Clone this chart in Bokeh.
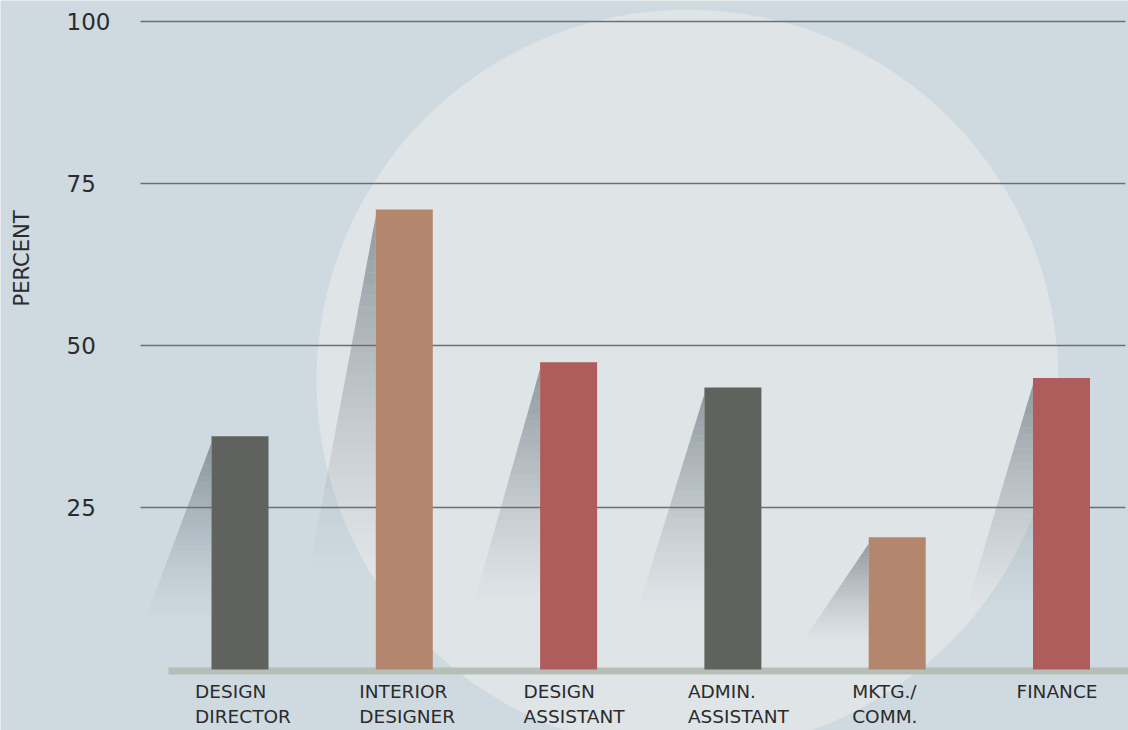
import numpy as np
from bokeh.plotting import figure
from bokeh.models import Range1d, ColumnDataSource
from bokeh.core.properties import value
from bokeh.embed import file_html
from bokeh.resources import INLINE

# ---------------- data ----------------
categories = ["DESIGN\nDIRECTOR", "INTERIOR\nDESIGNER", "DESIGN\nASSISTANT",
              "ADMIN.\nASSISTANT", "MKTG./\nCOMM.", "FINANCE"]
percent = [36, 71, 47.4, 43.5, 20.4, 45]
bar_colors = ["#60625e", "#b4866e", "#ae5c5c", "#60625e", "#b4866e", "#ae5c5c"]
y_ticks = [25, 50, 75, 100]
y_tick_labels = ["25", "50", "75", "100"]
axis_title = "PERCENT"

# ---------------- layout / style ----------------
W, H = 1128, 730
PX_PER_CAT = 164.3
FIRST_CENTER_PX = 239.5
ZERO_PX = 669.0
PX_PER_PCT = 6.48
BG = "#cfdae0"
FONT = "DejaVu Sans"
TEXT_COLOR = "#2b2b2d"


def px_to_x(px):
    return (px - FIRST_CENTER_PX) / PX_PER_CAT


def px_to_y(py):
    return (ZERO_PX - py) / PX_PER_PCT


p = figure(width=W, height=H, output_backend="svg", toolbar_location=None,
           x_range=Range1d(px_to_x(0), px_to_x(W)),
           y_range=Range1d(px_to_y(H), px_to_y(0)),
           min_border=0, outline_line_color=None,
           background_fill_color=BG, border_fill_color=BG)
p.axis.visible = False
p.grid.visible = False

# big decorative circle
p.scatter(x=[px_to_x(687)], y=[px_to_y(380)], size=742, marker="circle",
          fill_color="#dfe4e7", line_color=None)

# bar shadows (gradient approximated by strips)
xs_idx = np.arange(len(percent))
bar_w = 57 / PX_PER_CAT
spread = 85 / PX_PER_CAT
N = 40
sx, sy, sa = [], [], []
for i, v in enumerate(percent):
    xl = xs_idx[i] - bar_w / 2
    apex = v - 1.0
    for k in range(N):
        t0, t1 = k / N, (k + 1) / N
        y0 = apex * (1 - t0)
        y1 = apex * (1 - t1)
        x0 = xl - spread * t0
        x1 = xl - spread * t1
        sx.append([x0, xl, xl, x1])
        sy.append([y0, y0, y1, y1])
        a = 0.48 * max(0.0, 1 - t0 / 0.78) ** 1.3
        sa.append(a)
p.patches(xs=sx, ys=sy, fill_color="#3d4a54", fill_alpha=sa, line_color=None)

# gridlines
gx0, gx1 = px_to_x(140), px_to_x(1125)
p.segment(x0=[gx0] * len(y_ticks), x1=[gx1] * len(y_ticks), y0=y_ticks, y1=y_ticks,
          line_color="#6b7073", line_width=1.4)

# baseline
p.quad(left=[px_to_x(168)], right=[px_to_x(W)], top=[px_to_y(667)], bottom=[px_to_y(674)],
       fill_color="#b6beb8", line_color=None)

# bars
src = ColumnDataSource(dict(x=xs_idx, top=percent, color=bar_colors, label=categories))
p.vbar(x="x", top="top", bottom=0, width=bar_w, fill_color="color", line_color=None, source=src)

# category labels
p.text(x="x", y=px_to_y(680), text="label", source=src, x_offset=-45,
       text_align="left", text_baseline="top", text_font=value(FONT),
       text_font_size="18.5px", text_color=TEXT_COLOR, text_line_height=1.2)

# y tick labels
p.text(x=[px_to_x(66)] * len(y_ticks), y=y_ticks, text=y_tick_labels,
       text_align="left", text_baseline="middle", text_font=value(FONT),
       text_font_size="23px", text_color=TEXT_COLOR)

# axis title
p.text(x=[px_to_x(21)], y=[px_to_y(258)], text=[axis_title], angle=np.pi / 2,
       text_align="center", text_baseline="middle", text_font=value(FONT),
       text_font_size="21px", text_color=TEXT_COLOR)

open("out.html", "w").write(file_html(p, INLINE))
